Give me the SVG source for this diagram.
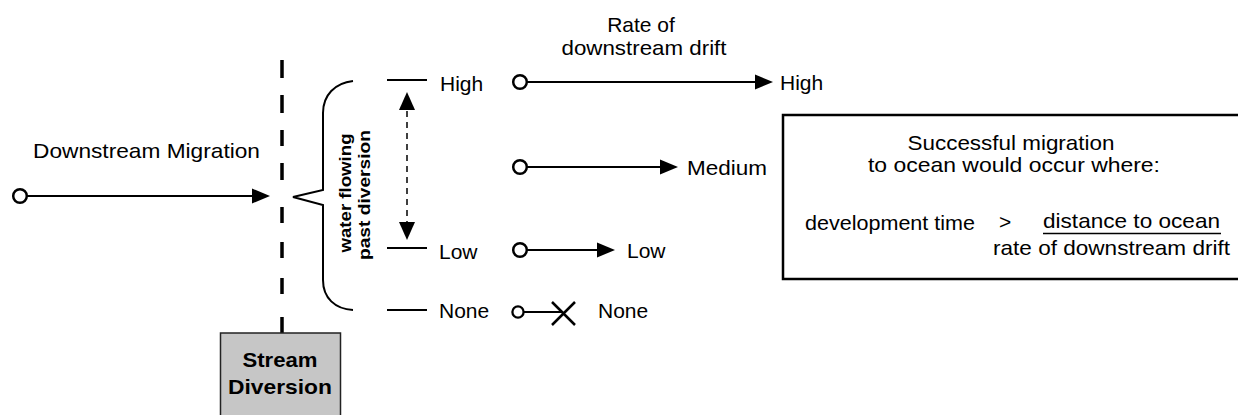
<svg xmlns="http://www.w3.org/2000/svg" width="1238" height="415" viewBox="0 0 1238 415">
<style>
  text { font-family: "Liberation Sans", Arial, sans-serif; font-size: 21px; fill: #000; }
  .bold { font-weight: bold; }
  .vert { font-size: 17px; font-weight: bold; }
  .line { stroke: #000; stroke-width: 2; fill: none; }
  .tick { stroke: #000; stroke-width: 2; fill: none; }
  .dash { stroke: #000; stroke-width: 1.5; fill: none; stroke-dasharray: 6 5; }
</style>
<defs>
  <marker id="arrow" markerUnits="userSpaceOnUse" markerWidth="18" markerHeight="16" refX="10" refY="8" orient="auto">
    <path d="M0,0.5 L18,8 L0,15.5 z" fill="#000"/>
  </marker>
  <marker id="arrow2" markerUnits="userSpaceOnUse" markerWidth="18" markerHeight="16" refX="10" refY="8" orient="auto-start-reverse">
    <path d="M0,0 L18,8 L0,16 z" fill="#000"/>
  </marker>
  <marker id="dot" markerUnits="userSpaceOnUse" markerWidth="20" markerHeight="20" refX="10" refY="10" orient="auto">
    <circle cx="10" cy="10" r="6.8" fill="#fff" stroke="#000" stroke-width="2.5"/>
  </marker>
  <marker id="dotS" markerUnits="userSpaceOnUse" markerWidth="16" markerHeight="16" refX="8" refY="8" orient="auto">
    <circle cx="8" cy="8" r="5.6" fill="#fff" stroke="#000" stroke-width="2.3"/>
  </marker>
</defs>
<rect width="1238" height="415" fill="#fff"/>

<g id="diversion-line">
  <path d="M282,60V78 M282,95V113 M282,130V146 M282,163V180 M282,207V223 M282,242V258 M282,278V294 M282,317V333" stroke="#000" stroke-width="3.5" fill="none"/>
</g>

<g id="stream-diversion">
  <rect x="220.5" y="333" width="120" height="90" fill="#c6c6c6" stroke="#222" stroke-width="1.5"/>
  <text class="bold" x="280" y="367" text-anchor="middle" textLength="75" lengthAdjust="spacingAndGlyphs">Stream</text>
  <text class="bold" x="280" y="394" text-anchor="middle" textLength="104" lengthAdjust="spacingAndGlyphs">Diversion</text>
</g>

<g id="migration-label">
  <text x="33" y="158" textLength="227" lengthAdjust="spacingAndGlyphs">Downstream Migration</text>
</g>

<g id="brace">
  <path d="M353,81 C335,83 323,95 323,113 L323,190 L293,197 L323,205 L323,280 C323,298 335,309 353,310" class="line" stroke-width="2.2"/>
  <text class="vert" transform="translate(351,193) rotate(-90)" text-anchor="middle" textLength="119" lengthAdjust="spacingAndGlyphs">water flowing</text>
  <text class="vert" transform="translate(370,195) rotate(-90)" text-anchor="middle" textLength="130" lengthAdjust="spacingAndGlyphs">past diversion</text>
</g>

<g id="flow-levels">
  <path d="M387,80H427 M387,248H427 M387,310H427" class="tick"/>
  <text x="440" y="91">High</text>
  <text x="439" y="259">Low</text>
  <text x="439" y="318">None</text>
</g>

<g id="drift-title">
  <text x="641" y="32" text-anchor="middle">Rate of</text>
  <text x="644" y="55" text-anchor="middle" textLength="165" lengthAdjust="spacingAndGlyphs">downstream drift</text>
</g>

<g id="drift-high"><text x="780" y="90">High</text></g>
<g id="drift-medium"><text x="687" y="175" textLength="80" lengthAdjust="spacingAndGlyphs">Medium</text></g>
<g id="drift-low"><text x="627" y="258">Low</text></g>
<g id="drift-none">
  <path d="M552,302 L575,325 M575,302 L552,325" stroke="#000" stroke-width="2.5" fill="none"/>
  <text x="598" y="318">None</text>
</g>

<g id="info-box">
  <rect x="783" y="115" width="470" height="164" fill="none" stroke="#000" stroke-width="2.5"/>
  <text x="1011" y="150" text-anchor="middle" textLength="207" lengthAdjust="spacingAndGlyphs">Successful migration</text>
  <text x="1014" y="172" text-anchor="middle" textLength="292" lengthAdjust="spacingAndGlyphs">to ocean would occur where:</text>
  <text x="805" y="230" textLength="170" lengthAdjust="spacingAndGlyphs">development time</text>
  <text x="999" y="229">&gt;</text>
  <text x="1043" y="228" textLength="177" lengthAdjust="spacingAndGlyphs">distance to ocean</text>
  <line x1="1043" y1="233.5" x2="1221" y2="233.5" stroke="#000" stroke-width="1.5"/>
  <text x="993" y="255" textLength="237" lengthAdjust="spacingAndGlyphs">rate of downstream drift</text>
</g>

<g id="connectors">
  <line x1="20" y1="196" x2="262" y2="196" class="line" marker-start="url(#dot)" marker-end="url(#arrow)"/>
  <line x1="520" y1="82" x2="765" y2="82" class="line" marker-start="url(#dot)" marker-end="url(#arrow)"/>
  <line x1="520" y1="167" x2="670" y2="167" class="line" marker-start="url(#dot)" marker-end="url(#arrow)"/>
  <line x1="520" y1="250" x2="607" y2="250" class="line" marker-start="url(#dot)" marker-end="url(#arrow)"/>
  <line x1="518" y1="312" x2="563" y2="312" class="line" marker-start="url(#dotS)"/>
  <line x1="407" y1="100" x2="407" y2="232" class="dash" marker-start="url(#arrow2)" marker-end="url(#arrow2)"/>
</g>
</svg>
